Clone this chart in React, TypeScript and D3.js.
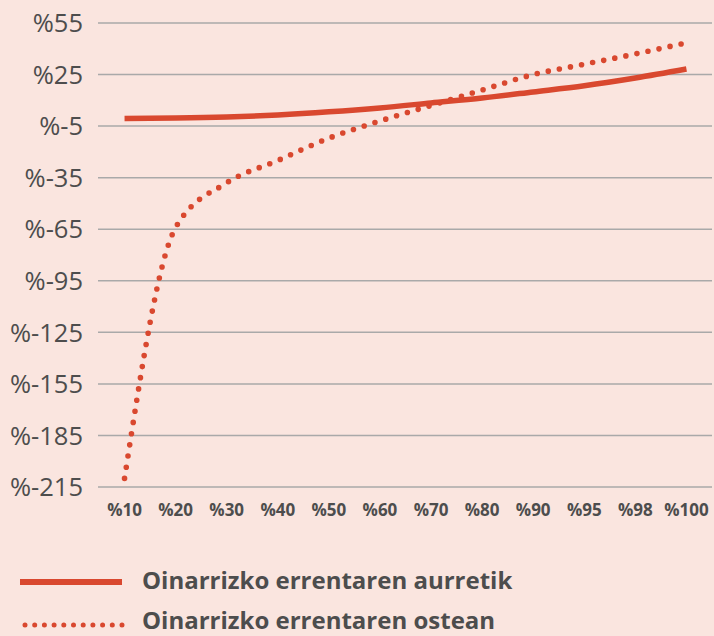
import React from 'react';
import * as d3 from 'd3';

// percentiles on the x axis
const categories = ['%10', '%20', '%30', '%40', '%50', '%60', '%70', '%80', '%90', '%95', '%98', '%100'];
// before basic income (solid)
const aurretik = [-0.5, -0.3, 0.3, 1.5, 3.3, 5.6, 8.5, 11.4, 14.9, 18.5, 23, 28.2];
// after basic income (dotted)
const ostean = [-210, -64, -38, -25, -12, -2, 7, 16, 25, 31, 37, 43.5];
const yTicks = [55, 25, -5, -35, -65, -95, -125, -155, -185, -215];
const seriesNames = ['Oinarrizko errentaren aurretik', 'Oinarrizko errentaren ostean'];

const W = 714;
const H = 636;
const BG = '#fae5df';
const RED = '#d9482f';
const TEXT = '#4d4d4d';

export default function App() {
  const x = d3.scalePoint<string>().domain(categories).range([99, 712]).padding(0.5);
  const y = d3.scaleLinear().domain([-215, 55]).range([487, 23]);

  const line = d3.line<number>()
    .x((d, i) => x(categories[i]) as number)
    .y(d => y(d))
    .curve(d3.curveMonotoneX);

  return (
    <svg width={W} height={H} style={{ position: 'absolute', left: 0, top: 0, background: BG }}
      fontFamily="'Open Sans', sans-serif">
      <rect width={W} height={H} fill={BG} />
      {/* grid + y labels */}
      {yTicks.map(t => (
        <g key={t}>
          <line x1={98} x2={712} y1={y(t)} y2={y(t)} stroke="#a9a9a9" strokeWidth={1.5} />
          <text x={83} y={y(t)} dy="0.36em" textAnchor="end" fontSize={25.5} fill={TEXT}>{'%' + t}</text>
        </g>
      ))}
      {/* x labels */}
      {categories.map(c => (
        <text key={c} x={x(c)} y={516} textAnchor="middle" fontSize={17} fontWeight="bold" fill={TEXT}>{c}</text>
      ))}
      <path d={line(aurretik) || ''} fill="none" stroke={RED} strokeWidth={5.5} />
      <path d={line(ostean) || ''} fill="none" stroke={RED} strokeWidth={5.6} strokeLinecap="round" strokeDasharray="0 11.3" />

      {/* legend */}
      <line x1={20} x2={122} y1={582} y2={582} stroke={RED} strokeWidth={6} />
      <text x={142} y={589} fontSize={24} fontWeight="bold" fill={TEXT}>{seriesNames[0]}</text>
      <line x1={25} x2={122} y1={625} y2={625} stroke={RED} strokeWidth={5} strokeLinecap="round" strokeDasharray="0 9.7" />
      <text x={142} y={629} fontSize={24} fontWeight="bold" fill={TEXT}>{seriesNames[1]}</text>
    </svg>
  );
}
